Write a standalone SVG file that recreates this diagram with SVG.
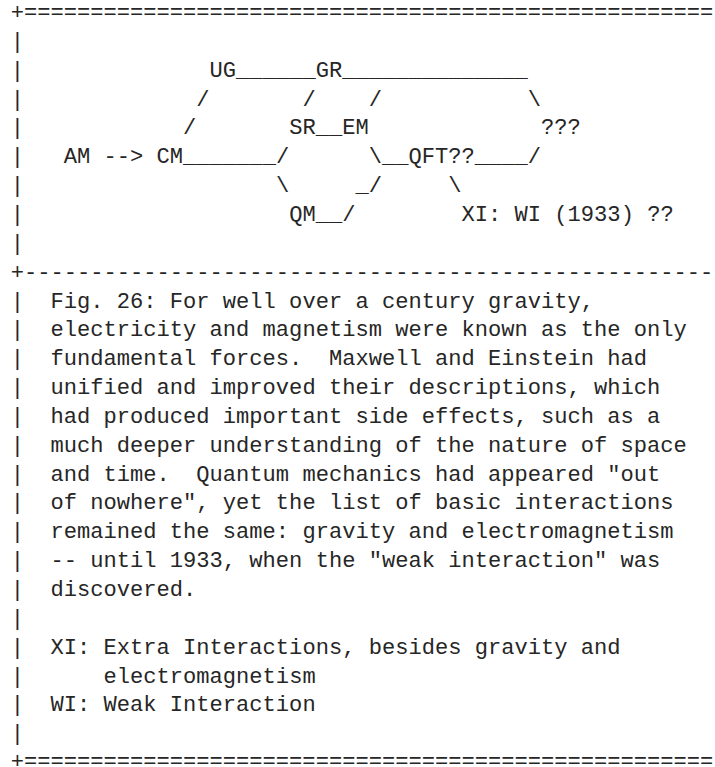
<svg xmlns="http://www.w3.org/2000/svg" width="715" height="767" viewBox="0 0 715 767">
<style>
text { font-family: "Liberation Mono", "Courier New", monospace; font-size: 22.1px; white-space: pre; fill: #262626; }
</style>
<rect x="0" y="0" width="715" height="767" fill="#ffffff"/>
<g id="frame">
<text x="10.7" y="19">+====================================================</text>
<text x="10.7" y="47.85">|</text>
<text x="10.7" y="76.7">|</text>
<text x="10.7" y="105.55">|</text>
<text x="10.7" y="134.4">|</text>
<text x="10.7" y="163.25">|</text>
<text x="10.7" y="192.1">|</text>
<text x="10.7" y="220.95">|</text>
<text x="10.7" y="249.8">|</text>
<text x="10.7" y="278.65">+----------------------------------------------------</text>
<text x="10.7" y="307.5">|</text>
<text x="10.7" y="336.35">|</text>
<text x="10.7" y="365.2">|</text>
<text x="10.7" y="394.05">|</text>
<text x="10.7" y="422.9">|</text>
<text x="10.7" y="451.75">|</text>
<text x="10.7" y="480.6">|</text>
<text x="10.7" y="509.45">|</text>
<text x="10.7" y="538.3">|</text>
<text x="10.7" y="567.15">|</text>
<text x="10.7" y="596">|</text>
<text x="10.7" y="624.85">|</text>
<text x="10.7" y="653.7">|</text>
<text x="10.7" y="682.55">|</text>
<text x="10.7" y="711.4">|</text>
<text x="10.7" y="740.25">|</text>
<text x="10.7" y="768">+====================================================</text>
</g>
<g id="connectors">
<text x="236.12" y="76.7">______</text>
<text x="342.2" y="76.7">______________</text>
<text x="196.34" y="105.55">/</text>
<text x="302.42" y="105.55">/</text>
<text x="368.72" y="105.55">/</text>
<text x="527.84" y="105.55">\</text>
<text x="183.08" y="134.4">/</text>
<text x="315.68" y="134.4">__</text>
<text x="103.52" y="163.25">--&gt;</text>
<text x="183.08" y="163.25">_______/</text>
<text x="368.72" y="163.25">\__</text>
<text x="474.8" y="163.25">____/</text>
<text x="275.9" y="192.1">\</text>
<text x="355.46" y="192.1">_/</text>
<text x="448.28" y="192.1">\</text>
<text x="315.68" y="220.95">__/</text>
</g>
<g id="node-UG"><text x="209.6" y="76.7">UG</text></g>
<g id="node-GR"><text x="315.68" y="76.7">GR</text></g>
<g id="node-SR"><text x="289.16" y="134.4">SR</text></g>
<g id="node-EM"><text x="342.2" y="134.4">EM</text></g>
<g id="node-unknown"><text x="541.1" y="134.4">???</text></g>
<g id="node-AM"><text x="63.74" y="163.25">AM</text></g>
<g id="node-CM"><text x="156.56" y="163.25">CM</text></g>
<g id="node-QFT"><text x="408.5" y="163.25">QFT??</text></g>
<g id="node-QM"><text x="289.16" y="220.95">QM</text></g>
<g id="node-XI"><text x="461.54" y="220.95">XI: WI (1933) ??</text></g>
<g id="caption">
<text x="50.48" y="307.5">Fig. 26: For well over a century gravity,</text>
<text x="50.48" y="336.35">electricity and magnetism were known as the only</text>
<text x="50.48" y="365.2">fundamental forces.  Maxwell and Einstein had</text>
<text x="50.48" y="394.05">unified and improved their descriptions, which</text>
<text x="50.48" y="422.9">had produced important side effects, such as a</text>
<text x="50.48" y="451.75">much deeper understanding of the nature of space</text>
<text x="50.48" y="480.6">and time.  Quantum mechanics had appeared "out</text>
<text x="50.48" y="509.45">of nowhere", yet the list of basic interactions</text>
<text x="50.48" y="538.3">remained the same: gravity and electromagnetism</text>
<text x="50.48" y="567.15">-- until 1933, when the "weak interaction" was</text>
<text x="50.48" y="596">discovered.</text>
<text x="50.48" y="653.7">XI: Extra Interactions, besides gravity and</text>
<text x="103.52" y="682.55">electromagnetism</text>
<text x="50.48" y="711.4">WI: Weak Interaction</text>
</g>
</svg>
